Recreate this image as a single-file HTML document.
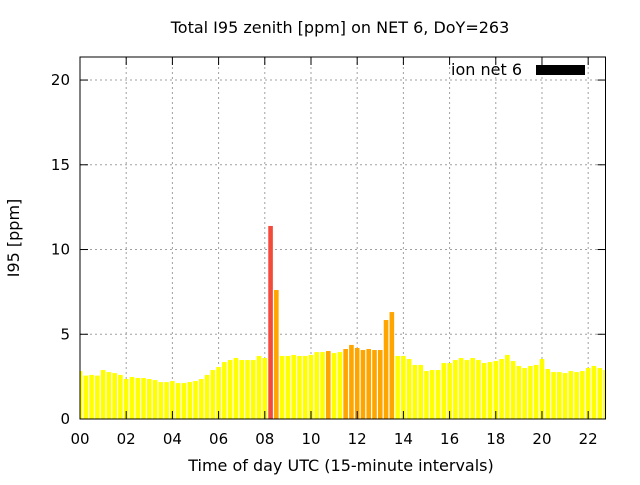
<!DOCTYPE html>
<html><head><meta charset="utf-8"><style>
html,body{margin:0;padding:0;background:#fff;}
svg text{font-family:"DejaVu Sans","Liberation Sans",sans-serif;}
</style></head><body>
<svg id="chart" width="640" height="480" xmlns="http://www.w3.org/2000/svg">
<rect width="640" height="480" fill="#fff"/>
<text x="340" y="33" font-size="16" text-anchor="middle">Total I95 zenith [ppm] on NET 6, DoY=263</text>
<g id="grid"></g>
<g id="bars"></g>
<g id="axes"></g>
<text x="0" y="0" font-size="16" text-anchor="middle" transform="translate(19,238) rotate(-90)">I95 [ppm]</text>
<text x="341" y="471" font-size="16" text-anchor="middle">Time of day UTC (15-minute intervals)</text>
<g>
<text x="522" y="75" font-size="16" text-anchor="end">ion net 6</text>
<rect x="536" y="65" width="49" height="10" fill="#000"/>
</g>
</svg>
<script>
const values = [2.83,2.56,2.60,2.56,2.89,2.77,2.71,2.60,2.36,2.48,2.42,2.42,2.36,2.30,2.18,2.18,2.24,2.12,2.12,2.18,2.24,2.36,2.60,2.89,3.07,3.36,3.48,3.60,3.48,3.48,3.48,3.72,3.60,11.39,7.61,3.72,3.72,3.78,3.72,3.72,3.78,3.95,3.95,4.01,3.89,3.95,4.13,4.37,4.19,4.07,4.13,4.07,4.07,5.84,6.31,3.72,3.72,3.54,3.19,3.19,2.83,2.89,2.89,3.30,3.30,3.48,3.60,3.48,3.60,3.48,3.30,3.36,3.42,3.54,3.78,3.42,3.13,3.01,3.13,3.19,3.54,2.95,2.77,2.77,2.71,2.83,2.77,2.83,3.01,3.13,3.01,2.89];
const yTicks = [0,5,10,15,20];
const xTickLabels = ["00","02","04","06","08","10","12","14","16","18","20","22"];
const X0=80,X1=605.5,Y0=419,Y1=57;
const yMax=21.36, xMaxH=22.75;
const xs=h=>X0+h*(X1-X0)/xMaxH;
const ys=v=>Y0-v*(Y0-Y1)/yMax;
const NS="http://www.w3.org/2000/svg";
function mk(tag,attrs,parent){const e=document.createElementNS(NS,tag);for(const k in attrs)e.setAttribute(k,attrs[k]);parent.appendChild(e);return e;}
const grid=document.getElementById('grid'),bars=document.getElementById('bars'),axes=document.getElementById('axes');
yTicks.forEach(t=>{
  const y=ys(t);
  if(t>0){const g=mk('line',{x1:X0,x2:X1,y1:y,y2:y,stroke:'#a0a0a0','stroke-dasharray':'2,3'},grid);
  
  }
  mk('line',{x1:X0,x2:X0+8,y1:y,y2:y,stroke:'#000'},axes);
  mk('line',{x1:X1,x2:X1-8,y1:y,y2:y,stroke:'#000'},axes);
  const tx=mk('text',{x:X0-10,y:y+5,'font-size':15,'text-anchor':'end'},axes);
  
  
  tx.textContent=t;
});
xTickLabels.forEach((l,i)=>{
  const x=xs(i*2);
  if(i>0){const g=mk('line',{x1:x,x2:x,y1:Y1,y2:Y0,stroke:'#a0a0a0','stroke-dasharray':'2,3'},grid);
  
  }
  mk('line',{x1:x,x2:x,y1:Y0,y2:Y0-8,stroke:'#000'},axes);
  mk('line',{x1:x,x2:x,y1:Y1,y2:Y1+8,stroke:'#000'},axes);
  const tx=mk('text',{x:x,y:Y0+25,'font-size':15,'text-anchor':'middle'},axes);
  
  
  tx.textContent=l;
});
values.forEach((v,i)=>{
  const cx=xs(i*0.25),w=4.6;
  const color=v>=10?'#f44a3c':(v>=4?'#ffa500':'#ffff00');
  const left=Math.max(X0,cx-w/2),right=Math.min(X1,cx+w/2);
  const r=mk('rect',{x:left,y:ys(v),width:right-left,height:Y0-ys(v),fill:color},bars);
  
  
});
const f=mk('rect',{x:X0,y:Y1,width:X1-X0,height:Y0-Y1,fill:'none',stroke:'#000','stroke-width':1},axes);


</script>
</body></html>
